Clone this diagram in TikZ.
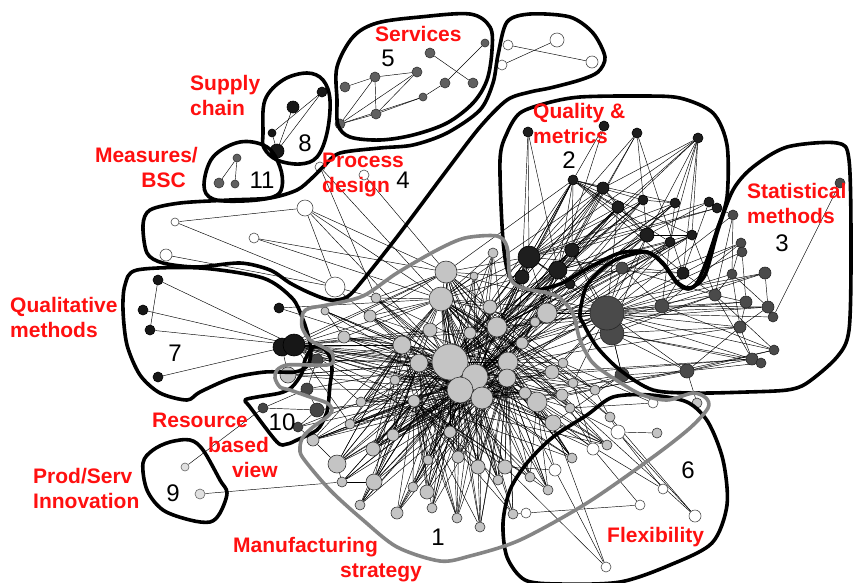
\documentclass[tikz,border=0pt]{standalone}
\usepackage{fontspec}
\setmainfont{Liberation Sans}
\pgfdeclarelayer{bg}
\pgfdeclarelayer{paper}
\pgfsetlayers{paper,bg,main}
\definecolor{cA}{HTML}{C4C4C4}
\definecolor{cB}{HTML}{1E1E1E}
\definecolor{cC}{HTML}{4A4A4A}
\definecolor{cE}{HTML}{606060}
\definecolor{cG}{HTML}{171717}
\definecolor{cH}{HTML}{454545}
\definecolor{cI}{HTML}{E0E0E0}
\definecolor{outgrey}{HTML}{858585}
\definecolor{labred}{HTML}{FF1010}
\newcommand\lblfont{\fontsize{21}{25}\selectfont\bfseries}
\newcommand\numfont{\fontsize{24}{26}\selectfont}
\newcommand\nd[4]{\node[#1,minimum size=#4*2pt] (#2) at (#3) {};}
\tikzset{
  nb/.style={circle,inner sep=0pt,line width=0.6pt,draw=black!80},
  nA/.style={nb,fill=cA},
  nB/.style={nb,fill=cB,draw=black},
  nC/.style={nb,fill=cC,draw=black!85},
  nW/.style={nb,fill=white,draw=black!70},
  nE/.style={nb,fill=cE,draw=black!80},
  nG/.style={nb,fill=cG,draw=black},
  nH/.style={nb,fill=cH,draw=black!85},
  nI/.style={nb,fill=cI,draw=black!60},
  ed/.style={draw=black,line width=0.45pt},
  outl/.style={draw=black,line width=3.6pt,line join=round},
  outg/.style={draw=outgrey,line width=3.6pt,line join=round},
  lbl/.style={inner sep=0pt,text=labred,font=\lblfont},
  num/.style={inner sep=0pt,text=black,font=\numfont},
}
\begin{document}
\begin{tikzpicture}[x=1pt,y=-1pt]
\useasboundingbox (0,0) rectangle (853,582);
\clip (0,0) rectangle (853,582);
\begin{pgfonlayer}{paper}
\fill[white] (0,0) rectangle (853,582);
\end{pgfonlayer}
% ---------- cluster 1 nodes
\nd{nA}{a1}{450,362}{18}
\nd{nA}{a2}{475,377}{13}
\nd{nA}{a3}{460,390}{13}
\nd{nA}{a4}{482,398}{11}
\nd{nA}{a5}{508,362}{10}
\nd{nA}{a6}{507,378}{9}
\nd{nA}{a7}{497,327}{10}
\nd{nA}{a8}{490,307}{7}
\nd{nA}{a9}{493,253}{5}
\nd{nA}{a10}{474,276}{4}
\nd{nA}{a11}{446,272}{11}
\nd{nA}{a12}{441,299}{12}
\nd{nA}{a13}{402,345}{9}
\nd{nA}{a14}{419,363}{9}
\nd{nA}{a15}{370,316}{6}
\nd{nA}{a16}{376,298}{5}
\nd{nA}{a17}{344,337}{6}
\nd{nA}{a18}{325,311}{4}
\nd{nA}{a19}{361,402}{5}
\nd{nA}{a20}{414,401}{6}
\nd{nA}{a21}{350,424}{5}
\nd{nA}{a22}{288,375}{8}
\nd{nA}{a23}{547,313}{10}
\nd{nA}{a24}{535,322}{5}
\nd{nA}{a25}{552,372}{7}
\nd{nA}{a26}{537,402}{10}
\nd{nA}{a27}{562,395}{6}
\nd{nA}{a28}{573,383}{5}
\nd{nA}{a29}{595,390}{5}
\nd{nA}{a30}{570,408}{5}
\nd{nA}{a31}{553,423}{8}
\nd{nA}{a32}{563,363}{5}
\nd{nA}{a33}{450,432}{6}
\nd{nA}{a34}{478,467}{7}
\nd{nA}{a35}{505,467}{7}
\nd{nA}{a36}{458,457}{6}
\nd{nA}{a37}{428,460}{5}
\nd{nA}{a38}{427,492}{7}
\nd{nA}{a39}{432,508}{5}
\nd{nA}{a40}{457,518}{5}
\nd{nA}{a41}{480,527}{5}
\nd{nA}{a42}{498,480}{5}
\nd{nA}{a43}{530,477}{5}
\nd{nA}{a44}{513,514}{5}
\nd{nA}{a45}{548,490}{5}
\nd{nA}{a46}{572,458}{5}
\nd{nA}{a47}{610,417}{5}
\nd{nA}{a48}{607,445}{5}
\nd{nA}{a50}{657,433}{5}
\nd{nA}{a51}{697,403}{5}
\nd{nA}{a52}{337,464}{9}
\nd{nA}{a53}{342,482}{5}
\nd{nA}{a54}{313,440}{6}
\nd{nA}{a55}{373,449}{7}
\nd{nA}{a56}{393,435}{6}
\nd{nA}{a57}{374,482}{8}
\nd{nA}{a58}{360,505}{5}
\nd{nA}{a59}{397,513}{6}
\nd{nA}{a60}{413,487}{5}
\nd{nA}{a62}{430,330}{7}
\nd{nA}{a63}{522,343}{6}
\nd{nA}{a64}{470,333}{6}
\nd{nA}{a65}{395,380}{5}
\nd{nA}{a66}{525,393}{6}
% ---------- cluster 6 (white)
\nd{nW}{w1}{593,449}{6}
\nd{nW}{w2}{618,432}{7}
\nd{nW}{w3}{555,470}{6}
\nd{nW}{w4}{653,403}{5}
\nd{nW}{w5}{663,489}{5}
\nd{nW}{w6}{640,505}{5}
\nd{nW}{w7}{695,516}{6}
\nd{nW}{w8}{526,513}{5}
\nd{nW}{w9}{606,567}{5}
% ---------- cluster 4 (white)
\nd{nW}{p1}{175,222}{4}
\nd{nW}{p2}{254,238}{5}
\nd{nW}{p3}{166,255}{6}
\nd{nW}{p4}{305,208}{8}
\nd{nW}{p5}{335,287}{10}
\nd{nW}{p6}{320,167}{5}
\nd{nW}{p7}{364,175}{5}
\nd{nW}{t1}{508,45}{5}
\nd{nW}{t2}{502,65}{5}
\nd{nW}{t3}{557,40}{7}
\nd{nW}{t4}{592,62}{6}
% ---------- cluster 5
\nd{nE}{s1}{345,87}{5}
\nd{nE}{s2}{375,77}{5}
\nd{nE}{s3}{417,72}{5}
\nd{nE}{s4}{430,53}{5}
\nd{nE}{s5}{340,124}{5}
\nd{nE}{s6}{376,114}{5}
\nd{nE}{s7}{423,97}{4}
\nd{nE}{s8}{485,43}{4}
\nd{nE}{s9}{445,83}{5}
\nd{nE}{s10}{473,83}{5}
% ---------- cluster 8
\nd{nG}{e1}{322,92}{5}
\nd{nG}{e2}{293,107}{6}
\nd{nG}{e3}{272,133}{4}
\nd{nG}{e4}{277,151}{7}
% ---------- cluster 11
\nd{nE}{m1}{237,158}{4}
\nd{nE}{m2}{219,183}{5}
\nd{nE}{m3}{235,184}{4}
% ---------- cluster 2
\nd{nB}{q1}{528,132}{5}
\nd{nB}{q2}{604,126}{5}
\nd{nB}{q3}{637,133}{5}
\nd{nB}{q4}{698,138}{5}
\nd{nB}{q5}{573,180}{5}
\nd{nB}{q6}{603,188}{6}
\nd{nB}{q7}{618,207}{6}
\nd{nB}{q8}{643,200}{5}
\nd{nB}{q9}{675,203}{5}
\nd{nB}{q10}{709,202}{5}
\nd{nB}{q11}{717,208}{5}
\nd{nB}{q12}{647,235}{7}
\nd{nB}{q13}{670,242}{5}
\nd{nB}{q14}{692,235}{5}
\nd{nB}{q15}{529,257}{11}
\nd{nB}{q16}{572,250}{7}
\nd{nB}{q17}{558,270}{9}
\nd{nB}{q18}{522,277}{7}
\nd{nB}{q19}{683,273}{6}
\nd{nB}{q20}{570,284}{5}
% ---------- cluster 3
\nd{nC}{r1}{840,183}{5}
\nd{nC}{r2}{733,215}{5}
\nd{nC}{r3}{741,243}{5}
\nd{nC}{r4}{742,252}{5}
\nd{nC}{r5}{765,273}{6}
\nd{nC}{r6}{732,274}{5}
\nd{nC}{r7}{715,295}{6}
\nd{nC}{r8}{746,302}{6}
\nd{nC}{r9}{768,307}{6}
\nd{nC}{r10}{773,317}{5}
\nd{nC}{r11}{740,327}{6}
\nd{nC}{r12}{774,350}{5}
\nd{nC}{r13}{752,359}{6}
\nd{nC}{r14}{761,363}{5}
\nd{nC}{r15}{687,371}{7}
\nd{nC}{r16}{662,306}{7}
\nd{nC}{r17}{622,375}{7}
\nd{nC}{r19}{612,333}{12}
\nd{nC}{r18}{607,313}{17}
\nd{nC}{r20}{622,268}{6}
% ---------- cluster 7
\nd{nG}{k1}{158,280}{5}
\nd{nG}{k2}{143,310}{5}
\nd{nG}{k3}{150,330}{5}
\nd{nG}{k4}{158,377}{5}
\nd{nG}{k5}{279,308}{5}
\nd{nG}{k6}{282,347}{9}
\nd{nG}{k7}{294,345}{11}
% ---------- cluster 10
\nd{nH}{g1}{317,360}{6}
\nd{nH}{g2}{307,389}{6}
\nd{nH}{g3}{317,410}{7}
\nd{nH}{g4}{263,408}{5}
\nd{nH}{g5}{298,427}{5}
% ---------- cluster 9
\nd{nI}{v1}{185,467}{4}
\nd{nI}{v2}{200,494}{5}

% ================= edges
\begin{pgfonlayer}{bg}
\foreach \s in {a4,a5,a6,a7,a8,a9,a10,a11,a12,a13,a14,a15,a16,a17,a18,a19,a20,a21,a22,a23,a24,a25,a26,a27,a31,a33,a36,a37,a52,a55,a56,a57,a62,a63,a64,a65,a66}
  \foreach \t in {a1,a2,a3} {\draw[ed] (\s)--(\t);}
\foreach \s in {a8,a9,a10,a13,a15,a16,a17,a19,a21,a24,a25,a27,a28,a32,a33,a34,a35,a36,a42,a46,a54,a55,a56,a65,a66}
  \foreach \t in {a4,a5,a12} {\draw[ed] (\s)--(\t);}
\foreach \s in {a34,a35,a36,a37,a38,a39,a40,a41,a42,a43,a44,a45,a46,a48,a52,a53,a54,a55,a56,a57,a58,a59,a60}
  \foreach \t in {a20,a6} {\draw[ed] (\s)--(\t);}
\foreach \s in {a34,a38,a39,a40,a41,a42,a53,a54,a58,a59,a60}
  \foreach \t in {a1,a2,a3} {\draw[ed] (\s)--(\t);}
\foreach \s in {a33,a36,a37,a52,a55,a56,a57,a19,a21,a40}
  \foreach \t in {a14,a13} {\draw[ed] (\s)--(\t);}
\foreach \s in {a43,a44,a45,a46,a48,a31,a30,a29,a28}
  \foreach \t in {a11,a12,a14} {\draw[ed] (\s)--(\t);}
\foreach \s in {q5,q6,q7,q8,q9,q12,q13,q14,q16,q18,q20}
  \foreach \t in {a1,a2,a7} {\draw[ed] (\s)--(\t);}
\foreach \s in {a13,a14,a17,a19,a20,a21,a62,a65,a12,a11,a1,a2,a3,a4,a5,a6,a26,a7,a64,a33}
  {\draw[ed] (k7)--(\s);}
\foreach \s in {a1,a2,a3,a5,a7,a11,a12,a23,a24,a63,a64,q12,q7,q16,q17,q15,q13,r2,r3,r4,r5,r6,r7,r8,r9,r10,r11,r12,r13,r15,r16,r17,r20,a28,a32,a25}
  {\draw[ed] (r18)--(\s);}
\foreach \s in {a1,a2,a3,a4,a5,a7,a11,a12,a62,a64,a8,a23,q16,q18,q20}
  {\draw[ed] (q15)--(\s);}
\foreach \s in {a1,a2,a4,a5,a6,a7,a8,a63,a64,a23,q16,q20}
  {\draw[ed] (q17)--(\s);}
\foreach \s/\t in {a1/a2,a2/a3,a1/a3,a2/a4,a3/a4,a1/a11,a11/a12,a12/a1,a5/a6,a4/a5,
  a52/a14,a52/a13,a55/a14,a57/a1,a57/a14,a58/a14,a59/a33,a60/a2,a38/a1,a38/a2,a38/a14,a39/a3,a40/a4,a41/a4,a41/a5,a44/a5,a45/a6,a43/a26,a45/a26,a46/a26,a48/a26,a31/a4,a30/a5,a29/a7,a47/a25,
  a5/r7,a5/r11,a6/r13,a7/r9,a4/r15,a23/r8,a23/r5,a26/r12,a25/r13,a6/r19,a63/r16,a26/r17,a24/r3,
  q6/a1,q7/a2,q8/a5,q5/a11,q12/a7,q12/a5,q13/a6,q18/a11,q18/a12,q16/a1,q16/a7,q6/a12,q9/a63,q14/a23,
  q1/q15,q1/q17,q1/q18,q2/q15,q2/q17,q3/q15,q3/q17,q3/q16,q3/q12,q3/q19,q4/q15,q4/q16,q4/q17,q4/q12,q4/q9,q4/q14,q4/q13,q4/q6,q4/q19,
  q5/q15,q5/q16,q5/q17,q5/q6,q5/q7,q5/q8,q5/q9,q5/q12,q5/q13,q5/q14,q5/q19,q5/q18,q6/q15,q6/q7,q6/q12,q7/q12,q7/q16,q7/q15,q8/q9,q8/q15,q9/q13,q10/q12,q11/q15,q11/q16,q12/q17,q13/q17,q14/q17,q19/q15,q19/q17,q20/q15,q6/q17,q7/q17,q8/q17,q9/q15,q10/q15,q10/q19,q14/q12,
  q13/r16,q19/r16,q14/r7,q11/r2,q16/r19,q12/r19,q19/r7,
  r19/r7,r19/r11,r19/r13,r19/r14,r19/r15,r19/r17,r16/r5,r16/r9,r16/r3,r7/r2,r7/r6,r7/r8,r7/r12,r7/r13,r8/r11,r9/r11,r9/r10,r11/r13,r11/r15,r12/r15,r13/r15,r14/r15,r1/r10,r2/r6,r3/r6,r4/r8,r5/r9,r6/r9,r6/r11,r15/r17,r16/r12,r20/r7,r20/r16,r17/a29,r17/a28,r20/a7,r15/a27,r17/a31,
  w1/a26,w1/a28,w1/a27,w2/a29,w2/a30,w2/w7,w2/w5,w3/a26,w3/a35,w6/w8,w6/w1,w7/a47,w8/a44,w9/a35,w9/w3,w4/a30,w4/a32,a50/w2,a51/r15,w9/a31,w5/a31,w7/a27,a48/a31,a47/a28,w1/a4,w3/a6,
  p1/p4,p1/p5,p2/a11,p3/p5,p4/p5,p4/a11,p4/a12,p4/a1,p6/a12,p7/a11,p5/a13,p5/a16,p6/a16,p2/a12,
  k1/k3,k1/k7,k2/k7,k3/k7,k4/k7,k5/a1,k6/a1,k6/a11,k6/a4,k6/a13,k5/a12,
  a22/a13,a22/k6,a22/a1,a17/a13,a18/a13,a15/a11,a16/a11,a18/a17,
  g1/a1,g1/a13,g1/a14,g2/a1,g2/a3,g3/a3,g3/a20,g5/a19,g5/a20,g4/g2,g4/g3,v1/g4,g1/g2,g2/g3,g3/g5,g1/k7,g5/a54,
  v2/a53,a53/a52,a54/a52,a53/a57,a58/a57,
  s1/s2,s2/s3,s5/s2,s5/s6,s5/s3,s6/s3,s6/s7,s2/s6,s5/s7,s4/s10,s9/s8,s7/s9,
  t1/t4,t2/t3,
  e3/e1,e4/e1,e4/e2,e3/e4,
  m1/m2,m1/m3}
  {\draw[ed] (\s)--(\t);}
\end{pgfonlayer}

% ================= outlines
\draw[outl] plot[smooth cycle,tension=0.55] coordinates {(337,100) (337,67) (353,37) (377,23) (420,17) (470,14) (490,27) (492,50) (487,80) (473,103) (447,123) (413,135) (380,140) (350,137) (338,125)};
\draw[outl] plot[smooth cycle,tension=0.5] coordinates {(143,225) (150,210) (180,203) (230,200) (270,198) (297,190) (312,178) (325,165) (340,153) (380,148) (413,145) (447,133) (480,110) (493,83) (498,55) (507,22) (530,14) (570,17) (593,33) (605,57) (598,72) (580,80) (550,88) (530,92) (507,100) (480,127) (447,170) (400,233) (363,280) (347,297) (330,300) (310,293) (290,283) (270,270) (240,263) (197,267) (163,263) (147,253)};
\draw[outl] plot[smooth cycle,tension=0.6] coordinates {(263,133) (265,100) (283,80) (307,73) (323,80) (330,100) (327,133) (317,157) (300,164) (277,160) (264,148)};
\draw[outl] plot[smooth cycle,tension=0.6] coordinates {(204,185) (213,157) (240,142) (267,147) (280,167) (282,187) (273,197) (243,201) (213,199)};
\draw[outl] plot[smooth cycle,tension=0.55] coordinates {(143,463) (153,450) (170,442) (190,440) (203,450) (220,480) (227,493) (220,513) (210,522) (190,520) (163,510) (147,490)};
\draw[outl] plot[smooth cycle,tension=0.5] coordinates {(137,270) (200,268) (263,278) (292,298) (302,317) (308,335) (311,350) (308,365) (295,372) (265,372) (232,378) (200,392) (187,400) (160,393) (140,375) (127,345) (123,310) (125,285)};
\draw[outl] plot[smooth cycle,tension=0.5] coordinates {(245,400) (257,397) (280,393) (292,387) (302,373) (305,360) (313,347) (323,348) (330,357) (332,370) (330,385) (328,407) (325,417) (317,430) (297,440) (287,444) (277,442) (250,407)};
\draw[outl] plot[smooth cycle,tension=0.5] coordinates {(500,160) (507,133) (520,113) (547,103) (580,97) (640,96) (680,98) (713,113) (727,145) (727,197) (717,230) (707,260) (697,283) (688,289) (677,283) (663,264) (647,252) (620,253) (590,267) (560,284) (530,290) (510,277) (503,240)};
\draw[outl] plot[smooth cycle,tension=0.5] coordinates {(580,313) (587,285) (607,265) (623,257) (647,252) (663,263) (677,282) (690,288) (705,275) (718,230) (733,190) (753,167) (787,147) (837,143) (849,160) (851,250) (849,330) (837,357) (807,383) (787,390) (747,392) (697,393) (653,390) (620,370) (597,347) (583,323)};
\draw[outl] plot[smooth cycle,tension=0.5] coordinates {(613,397) (650,395) (687,402) (708,422) (723,460) (727,505) (712,543) (670,565) (620,582) (560,584) (525,580) (507,557) (503,523) (510,490) (527,463) (553,437) (587,415)};
\draw[outg] plot[smooth cycle,tension=0.5] coordinates {(303,313) (310,308) (327,305) (363,296) (397,273) (437,250) (465,238) (497,236) (507,247) (510,277) (520,287) (547,293) (560,298) (573,314) (580,340) (592,362) (610,376) (640,394) (667,400) (693,393) (706,398) (708,408) (690,428) (653,457) (587,503) (520,540) (470,556) (440,561) (397,547) (363,520) (330,490) (303,458) (300,447) (303,437) (313,427) (327,417) (332,410) (327,403) (310,397) (290,390) (280,387) (275,378) (277,370) (287,365) (310,365) (327,365) (333,362) (332,353) (323,347) (310,340) (302,327)};

% ================= labels
\node[lbl,anchor=north west] (Lserv) at (375,26) {Services};
\node[lbl,anchor=north west,align=left] (Lsup) at (190,75) {Supply\\chain};
\node[lbl,anchor=north east,align=right] (Lmeas) at (198,147) {Measures/\\BSC\hspace*{12pt}};
\node[lbl,anchor=north west,align=left] (Lproc) at (322,153) {Process\\design};
\node[lbl,anchor=north west,align=left] (Lqual) at (533,103) {Quality \&\\metrics};
\node[lbl,anchor=north west,align=left] (Lstat) at (747,183) {Statistical\\methods};
\node[lbl,anchor=north west,align=left] (Lqlm) at (10,297) {Qualitative\\methods};
\node[lbl,anchor=north west,align=left] (Lres) at (152,413) {Resource\\\hspace*{56pt}based\\\hspace*{80pt}view};
\node[lbl,anchor=north west,align=left] (Lprod) at (33,468) {Prod/Serv\\Innovation};
\node[lbl,anchor=north west,align=left] (Lman) at (233,537) {Manufacturing\\\hspace*{107pt}strategy};
\node[lbl,anchor=north west] (Lflex) at (607,527) {Flexibility};

\node[num] (N1) at (438,537) {1};
\node[num] (N2) at (569,160) {2};
\node[num] (N3) at (782,243) {3};
\node[num] (N4) at (403,180) {4};
\node[num] (N5) at (388,58) {5};
\node[num] (N6) at (688,470) {6};
\node[num] (N7) at (175,353) {7};
\node[num] (N8) at (305,143) {8};
\node[num] (N9) at (173,493) {9};
\node[num] (N10) at (282,422) {10};
\node[num] (N11) at (262,180) {11};
\end{tikzpicture}
\end{document}
